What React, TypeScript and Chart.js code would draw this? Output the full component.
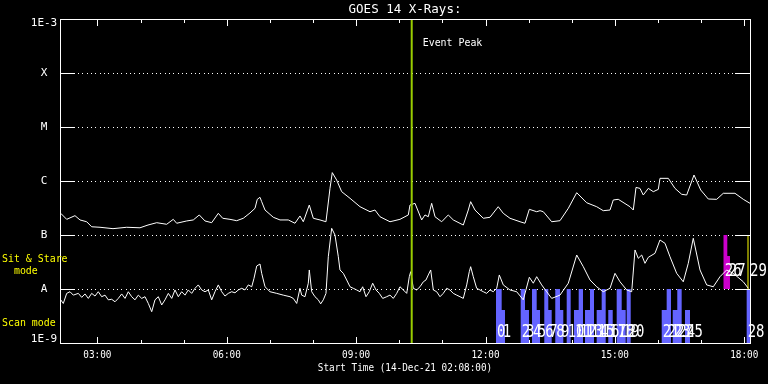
import { useEffect, useRef } from "react";
import { Chart, registerables } from "chart.js";

Chart.register(...registerables);

// ---------- text ----------
const TITLE = "GOES 14 X-Rays:";
const X_AXIS_TITLE = "Start Time (14-Dec-21 02:08:00)";
const EVENT_LABEL = "Event Peak";
const MODE_LABEL_SIT = ["Sit & Stare", "  mode"];
const MODE_LABEL_SCAN = "Scan mode";

// ---------- axes ----------
const X_MIN = 2 + 8 / 60; // 02:08
const X_MAX = 18 + 8 / 60; // 18:08
const Y_MIN = 1e-9;
const Y_MAX = 1e-3;
const Y_TICK_VALUES = [1e-9, 1e-8, 1e-7, 1e-6, 1e-5, 1e-4, 1e-3];
const Y_TICK_LABELS = ["1E-9", "A", "B", "C", "M", "X", "1E-3"];
const X_MAJOR_HOURS = [3, 6, 9, 12, 15, 18];
const X_TICK_LABELS = ["03:00", "06:00", "09:00", "12:00", "15:00", "18:00"];
const X_MINOR_HOURS = [4, 5, 7, 8, 10, 11, 13, 14, 16, 17];

// ---------- event ----------
const EVENT_PEAK_TIME = 10.289;

// ---------- long channel (1-8 A), hours / W m^-2 ----------
const LONG_TIME = [
  2.150, 2.289, 2.481, 2.597, 2.752, 2.868, 3.061, 3.362, 3.680, 3.988,
  4.174, 4.376, 4.607, 4.760, 4.839, 5.071, 5.224, 5.363, 5.496, 5.651,
  5.804, 5.906, 6.075, 6.231, 6.384, 6.539, 6.655, 6.708, 6.771, 6.810,
  6.887, 7.079, 7.235, 7.427, 7.582, 7.698, 7.775, 7.914, 8.007, 8.162,
  8.301, 8.394, 8.447, 8.549, 8.665, 8.858, 9.090, 9.322, 9.437, 9.553,
  9.785, 10.017, 10.210, 10.249, 10.365, 10.520, 10.597, 10.673, 10.752, 10.829,
  10.984, 11.137, 11.253, 11.485, 11.601, 11.656, 11.756, 11.949, 12.104, 12.296,
  12.412, 12.568, 12.800, 12.916, 13.016, 13.187, 13.264, 13.340, 13.535, 13.727,
  13.920, 14.115, 14.346, 14.578, 14.731, 14.887, 14.963, 15.079, 15.350, 15.427,
  15.490, 15.582, 15.659, 15.775, 15.891, 16.007, 16.046, 16.239, 16.394, 16.549,
  16.665, 16.835, 16.990, 17.166, 17.361, 17.514, 17.785, 17.978, 18.133,
];
const LONG_FLUX = [
  2.52e-7, 1.95e-7, 2.28e-7, 1.90e-7, 1.76e-7, 1.42e-7, 1.39e-7, 1.31e-7, 1.39e-7, 1.36e-7,
  1.53e-7, 1.69e-7, 1.58e-7, 1.95e-7, 1.65e-7, 1.82e-7, 1.90e-7, 2.35e-7, 1.82e-7, 1.69e-7,
  2.52e-7, 2.04e-7, 1.95e-7, 1.84e-7, 2.04e-7, 2.56e-7, 3.12e-7, 4.58e-7, 4.99e-7, 4.14e-7,
  2.90e-7, 2.13e-7, 1.90e-7, 1.90e-7, 1.65e-7, 2.25e-7, 1.76e-7, 3.59e-7, 2.04e-7, 1.90e-7,
  1.76e-7, 7.3e-7, 1.43e-6, 1.04e-6, 6.34e-7, 4.78e-7, 3.34e-7, 2.70e-7, 2.90e-7, 2.18e-7,
  1.76e-7, 1.95e-7, 2.35e-7, 3.59e-7, 3.86e-7, 1.90e-7, 2.35e-7, 2.18e-7, 3.86e-7, 2.18e-7,
  1.76e-7, 2.35e-7, 1.90e-7, 1.53e-7, 2.90e-7, 4.14e-7, 2.90e-7, 2.04e-7, 2.13e-7, 3.34e-7,
  2.52e-7, 2.04e-7, 1.76e-7, 1.65e-7, 2.99e-7, 2.70e-7, 2.82e-7, 2.70e-7, 1.76e-7, 1.84e-7,
  3.12e-7, 6.07e-7, 3.96e-7, 3.34e-7, 2.82e-7, 2.90e-7, 4.45e-7, 4.58e-7, 3.34e-7, 2.90e-7,
  7.6e-7, 7.3e-7, 5.5e-7, 7.3e-7, 6.34e-7, 7.0e-7, 1.12e-6, 1.12e-6, 7.3e-7, 5.67e-7,
  5.5e-7, 1.29e-6, 6.82e-7, 4.64e-7, 4.58e-7, 5.92e-7, 5.92e-7, 4.58e-7, 3.86e-7,
];

// ---------- short channel (0.5-4 A) ----------
const SHORT_TIME = [
  2.150, 2.210, 2.289, 2.365, 2.442, 2.558, 2.637, 2.713, 2.790, 2.868,
  2.945, 3.021, 3.100, 3.177, 3.253, 3.332, 3.409, 3.485, 3.564, 3.641,
  3.717, 3.796, 3.872, 3.949, 4.028, 4.104, 4.181, 4.260, 4.336, 4.413,
  4.492, 4.568, 4.645, 4.724, 4.800, 4.877, 4.955, 5.032, 5.108, 5.187,
  5.264, 5.340, 5.419, 5.496, 5.572, 5.651, 5.727, 5.804, 5.883, 5.959,
  6.036, 6.115, 6.191, 6.268, 6.347, 6.423, 6.500, 6.579, 6.632, 6.695,
  6.771, 6.810, 6.887, 7.003, 7.158, 7.311, 7.467, 7.543, 7.622, 7.698,
  7.738, 7.814, 7.891, 7.914, 7.970, 8.046, 8.123, 8.178, 8.239, 8.301,
  8.355, 8.433, 8.510, 8.587, 8.626, 8.703, 8.781, 8.858, 8.934, 9.013,
  9.090, 9.152, 9.229, 9.305, 9.384, 9.461, 9.537, 9.616, 9.709, 9.785,
  9.862, 9.941, 10.017, 10.094, 10.173, 10.233, 10.265, 10.326, 10.404, 10.481,
  10.558, 10.620, 10.673, 10.729, 10.790, 10.868, 10.945, 11.021, 11.100, 11.176,
  11.253, 11.332, 11.408, 11.485, 11.564, 11.624, 11.656, 11.717, 11.795, 11.872,
  11.949, 12.028, 12.104, 12.180, 12.260, 12.320, 12.412, 12.568, 12.723, 12.876,
  13.016, 13.108, 13.187, 13.303, 13.419, 13.535, 13.727, 13.920, 14.115, 14.268,
  14.423, 14.578, 14.731, 14.887, 15.003, 15.119, 15.274, 15.390, 15.467, 15.543,
  15.622, 15.698, 15.775, 15.930, 16.046, 16.162, 16.278, 16.433, 16.586, 16.702,
  16.818, 16.974, 17.129, 17.282, 17.437, 17.592, 17.746, 17.978, 18.094,
];
const SHORT_FLUX = [
  6.3e-9, 5.4e-9, 8.3e-9, 8.9e-9, 7.7e-9, 8.3e-9, 7.0e-9, 8.1e-9, 6.7e-9, 8.3e-9,
  7.4e-9, 8.9e-9, 7.2e-9, 7.7e-9, 6.3e-9, 6.45e-9, 5.8e-9, 6.7e-9, 8.1e-9, 6.7e-9,
  8.9e-9, 7.2e-9, 6.3e-9, 7.7e-9, 6.7e-9, 7.2e-9, 5.4e-9, 3.8e-9, 6.3e-9, 7.2e-9,
  5.06e-9, 6.3e-9, 8.3e-9, 6.7e-9, 9.6e-9, 7.2e-9, 8.9e-9, 7.7e-9, 9.6e-9, 8.3e-9,
  1.03e-8, 1.19e-8, 9.6e-9, 8.9e-9, 9.6e-9, 6.3e-9, 8.9e-9, 1.19e-8, 8.9e-9, 7.4e-9,
  8.3e-9, 8.9e-9, 8.5e-9, 9.6e-9, 1.03e-8, 9.6e-9, 1.19e-8, 1.10e-8, 1.58e-8, 2.67e-8,
  2.90e-8, 1.95e-8, 1.10e-8, 8.9e-9, 8.3e-9, 7.7e-9, 7.2e-9, 6.7e-9, 5.4e-9, 1.03e-8,
  7.7e-9, 7.2e-9, 1.28e-8, 2.25e-8, 8.9e-9, 7.2e-9, 6.3e-9, 5.3e-9, 6.3e-9, 8.3e-9,
  3.96e-8, 1.33e-7, 1.0e-7, 3.96e-8, 2.25e-8, 1.95e-8, 1.47e-8, 1.10e-8, 1.03e-8, 9.6e-9,
  8.9e-9, 1.10e-8, 7.2e-9, 8.9e-9, 1.28e-8, 9.6e-9, 8.3e-9, 6.7e-9, 7.2e-9, 7.7e-9,
  6.7e-9, 8.3e-9, 1.10e-8, 9.6e-9, 8.3e-9, 1.69e-8, 2.09e-8, 1.03e-8, 9.6e-9, 1.10e-8,
  1.36e-8, 1.47e-8, 1.82e-8, 2.25e-8, 9.6e-9, 8.9e-9, 7.2e-9, 8.3e-9, 1.03e-8, 9.6e-9,
  8.3e-9, 7.7e-9, 7.2e-9, 6.7e-9, 1.19e-8, 2.09e-8, 2.59e-8, 1.69e-8, 1.03e-8, 9.6e-9,
  8.9e-9, 8.3e-9, 9.6e-9, 8.9e-9, 1.03e-8, 1.82e-8, 1.19e-8, 9.6e-9, 8.9e-9, 6.3e-9,
  1.65e-8, 1.28e-8, 1.69e-8, 1.19e-8, 8.9e-9, 6.7e-9, 7.7e-9, 1.28e-8, 4.26e-8, 2.59e-8,
  1.47e-8, 1.10e-8, 8.9e-9, 1.03e-8, 1.95e-8, 1.36e-8, 9.6e-9, 8.9e-9, 5.28e-8, 3.70e-8,
  4.26e-8, 2.99e-8, 3.86e-8, 4.58e-8, 8.08e-8, 7.02e-8, 3.96e-8, 1.95e-8, 1.36e-8, 2.99e-8,
  8.69e-8, 2.25e-8, 1.19e-8, 1.10e-8, 1.69e-8, 2.25e-8, 1.95e-8, 1.36e-8, 1.03e-8,
];

// ---------- scan-mode observations ----------
const SCAN_ID = [0, 1, 2, 3, 4, 5, 6, 7, 8, 9, 10, 11, 12, 13, 14, 15, 16, 17, 18, 19, 20, 21, 22, 23, 24, 25, 28];
const SCAN_START = [
  12.243, 12.375, 12.816, 12.916, 13.078, 13.187, 13.363, 13.456, 13.618, 13.727,
  13.883, 14.052, 14.161, 14.307, 14.423, 14.578, 14.694, 14.847, 15.042, 15.158,
  15.274, 16.086, 16.201, 16.341, 16.447, 16.626, 18.056,
];
const SCAN_END = [
  12.375, 12.452, 12.916, 13.008, 13.187, 13.264, 13.456, 13.535, 13.727, 13.804,
  13.975, 14.161, 14.261, 14.423, 14.516, 14.694, 14.787, 14.950, 15.158, 15.251,
  15.367, 16.201, 16.301, 16.447, 16.549, 16.742, 18.133,
];
const SCAN_TOP = [
  1e-8, 4.1e-9, 1e-8, 4.1e-9, 1e-8, 4.1e-9, 1e-8, 4.1e-9, 1e-8, 4.1e-9,
  1e-8, 4.1e-9, 1e-8, 4.1e-9, 1e-8, 4.1e-9, 1e-8, 4.1e-9, 1e-8, 4.1e-9,
  1e-8, 4.1e-9, 1e-8, 4.1e-9, 1e-8, 4.1e-9, 1e-8,
];
const SCAN_BASE = 1e-9;
const SCAN_LABEL_LEVEL = 1.53e-9;

// ---------- sit & stare observations ----------
const SIT_ID = [26, 27];
const SIT_START = [17.514, 17.607];
const SIT_END = [17.607, 17.669];
const SIT_TOP = [1e-7, 4.1e-8];
const SIT_BASE = 1e-8;
const SIT_LINE_ID = 29;
const SIT_LINE_TIME = 18.087;
const SIT_LINE_RANGE = [1e-8, 1e-7];
const SIT_LABEL_LEVEL = 2.07e-8;

const FONT = '"DejaVu Sans Mono", monospace';

function barPolygon(starts: number[], ends: number[], tops: number[], base: number) {
  const pts: { x: number; y: number }[] = [];
  for (let i = 0; i < starts.length; i++) {
    pts.push({ x: starts[i], y: base });
    pts.push({ x: starts[i], y: tops[i] });
    pts.push({ x: ends[i], y: tops[i] });
    pts.push({ x: ends[i], y: base });
  }
  return pts;
}

function drawText(ctx: CanvasRenderingContext2D, text: string, x: number, y: number, size: number, sx: number, align: CanvasTextAlign) {
  ctx.save();
  ctx.font = `${size}px ${FONT}`;
  ctx.textAlign = align;
  ctx.textBaseline = "middle";
  ctx.translate(x, y);
  ctx.scale(sx, 1);
  ctx.fillText(text, 0, 0);
  ctx.restore();
}

const goesPlugin = {
  id: "goesDecor",
  beforeDraw(chart: any) {
    const ctx = chart.ctx;
    ctx.save();
    ctx.fillStyle = "#000";
    ctx.fillRect(0, 0, chart.width, chart.height);
    ctx.restore();
  },
  beforeDatasetsDraw(chart: any) {
    const ctx = chart.ctx;
    const ys = chart.scales.y;
    const { left, right } = chart.chartArea;
    ctx.save();
    ctx.fillStyle = "#fff";
    for (let i = 1; i < Y_TICK_VALUES.length - 1; i++) {
      const y = Math.round(ys.getPixelForValue(Y_TICK_VALUES[i]));
      for (let x = left + 18; x < right - 14; x += 4.333) {
        ctx.fillRect(Math.round(x), y, 1, 1);
      }
    }
    ctx.restore();
  },
  afterDatasetsDraw(chart: any) {
    const ctx = chart.ctx as CanvasRenderingContext2D;
    const xs = chart.scales.x;
    const ys = chart.scales.y;
    const { left, right, top, bottom } = chart.chartArea;
    const L = Math.round(left);
    const R = Math.round(right);
    const T = Math.round(top);
    const B = Math.round(bottom);
    ctx.save();
    ctx.fillStyle = "#fff";
    // box
    ctx.fillRect(L, T, R - L + 1, 1);
    ctx.fillRect(L, B, R - L + 1, 1);
    ctx.fillRect(L, T, 1, B - T + 1);
    ctx.fillRect(R, T, 1, B - T + 1);
    // y ticks
    for (let i = 1; i < Y_TICK_VALUES.length - 1; i++) {
      const y = Math.round(ys.getPixelForValue(Y_TICK_VALUES[i]));
      ctx.fillRect(L, y, 15, 1);
      ctx.fillRect(R - 15, y, 15, 1);
    }
    // x ticks
    X_MAJOR_HOURS.forEach((h) => {
      const x = Math.round(xs.getPixelForValue(h));
      ctx.fillRect(x, B - 6, 1, 6);
      ctx.fillRect(x, T + 1, 1, 6);
    });
    X_MINOR_HOURS.forEach((h) => {
      const x = Math.round(xs.getPixelForValue(h));
      ctx.fillRect(x, B - 3, 1, 3);
      ctx.fillRect(x, T + 1, 1, 3);
    });

    // title
    drawText(ctx, TITLE, (left + right) / 2, 9.5, 12.5, 1, "center");
    // y labels
    Y_TICK_VALUES.forEach((v, i) => {
      let y = ys.getPixelForValue(v);
      y = Math.min(Math.max(y, top + 4), bottom - 3.5);
      drawText(ctx, Y_TICK_LABELS[i], 44, y, 11, 1, "center");
    });
    // x labels
    X_MAJOR_HOURS.forEach((h, i) => {
      drawText(ctx, X_TICK_LABELS[i], xs.getPixelForValue(h), bottom + 12.5, 11, 0.85, "center");
    });
    drawText(ctx, X_AXIS_TITLE, (left + right) / 2, bottom + 25, 11, 0.85, "center");
    // event label
    drawText(ctx, EVENT_LABEL, xs.getPixelForValue(EVENT_PEAK_TIME) + 11, top + 24, 11, 0.9, "left");
    // mode labels
    ctx.fillStyle = "#ffff00";
    drawText(ctx, MODE_LABEL_SIT[0], 2, 259, 11, 0.9, "left");
    drawText(ctx, MODE_LABEL_SIT[1], 2, 271, 11, 0.9, "left");
    drawText(ctx, MODE_LABEL_SCAN, 2, 323.5, 11, 0.9, "left");
    // observation numbers
    ctx.fillStyle = "#fff";
    SCAN_ID.forEach((id, i) => {
      drawText(ctx, String(id), xs.getPixelForValue(SCAN_START[i]) + 1, ys.getPixelForValue(SCAN_LABEL_LEVEL), 17, 0.82, "left");
    });
    SIT_ID.forEach((id, i) => {
      drawText(ctx, String(id), xs.getPixelForValue(SIT_START[i]) + 1.5, ys.getPixelForValue(SIT_LABEL_LEVEL), 17, 0.82, "left");
    });
    drawText(ctx, String(SIT_LINE_ID), xs.getPixelForValue(SIT_LINE_TIME) + 2, ys.getPixelForValue(SIT_LABEL_LEVEL), 17, 0.82, "left");
    ctx.restore();
  },
};

export default function App() {
  const canvasRef = useRef<HTMLCanvasElement | null>(null);

  useEffect(() => {
    const canvas = canvasRef.current;
    if (!canvas) return;
    const chart = new Chart(canvas, {
      type: "line",
      data: {
        datasets: [
          {
            label: "Event peak",
            data: [
              { x: EVENT_PEAK_TIME, y: Y_MIN },
              { x: EVENT_PEAK_TIME, y: Y_MAX },
            ],
            borderColor: "#99cc00",
            borderWidth: 2,
            pointRadius: 0,
            fill: false,
            order: 0,
          },
          {
            label: "Long",
            data: LONG_TIME.map((t, i) => ({ x: t, y: LONG_FLUX[i] })),
            borderColor: "#ffffff",
            borderWidth: 1,
            pointRadius: 0,
            fill: false,
            tension: 0,
            order: 1,
          },
          {
            label: "Short",
            data: SHORT_TIME.map((t, i) => ({ x: t, y: SHORT_FLUX[i] })),
            borderColor: "#ffffff",
            borderWidth: 1,
            pointRadius: 0,
            fill: false,
            tension: 0,
            order: 1,
          },
          {
            label: "Sit line",
            data: [
              { x: SIT_LINE_TIME, y: SIT_LINE_RANGE[0] },
              { x: SIT_LINE_TIME, y: SIT_LINE_RANGE[1] },
            ],
            borderColor: "#ffff00",
            borderWidth: 1,
            pointRadius: 0,
            fill: false,
            order: 2,
          },
          {
            label: "Scan",
            data: barPolygon(SCAN_START, SCAN_END, SCAN_TOP, SCAN_BASE),
            borderColor: "transparent",
            borderWidth: 0,
            backgroundColor: "#6464ff",
            pointRadius: 0,
            fill: { value: SCAN_BASE },
            order: 3,
          },
          {
            label: "Sit",
            data: barPolygon(SIT_START, SIT_END, SIT_TOP, SIT_BASE),
            borderColor: "transparent",
            borderWidth: 0,
            backgroundColor: "#cc00cc",
            pointRadius: 0,
            fill: { value: SIT_BASE },
            order: 3,
          },
        ] as any,
      },
      options: {
        responsive: false,
        animation: false,
        devicePixelRatio: 1,
        events: [],
        layout: { padding: { left: 60, right: 18, top: 19, bottom: 41 } },
        plugins: {
          legend: { display: false },
          tooltip: { enabled: false },
          title: { display: false },
        },
        scales: {
          x: { type: "linear", min: X_MIN, max: X_MAX, display: false },
          y: { type: "logarithmic", min: Y_MIN, max: Y_MAX, display: false },
        },
      } as any,
      plugins: [goesPlugin],
    });
    return () => chart.destroy();
  }, []);

  return (
    <div style={{ position: "fixed", left: 0, top: 0, width: 768, height: 384, background: "#000" }}>
      <canvas ref={canvasRef} width={768} height={384} style={{ display: "block" }} />
    </div>
  );
}
